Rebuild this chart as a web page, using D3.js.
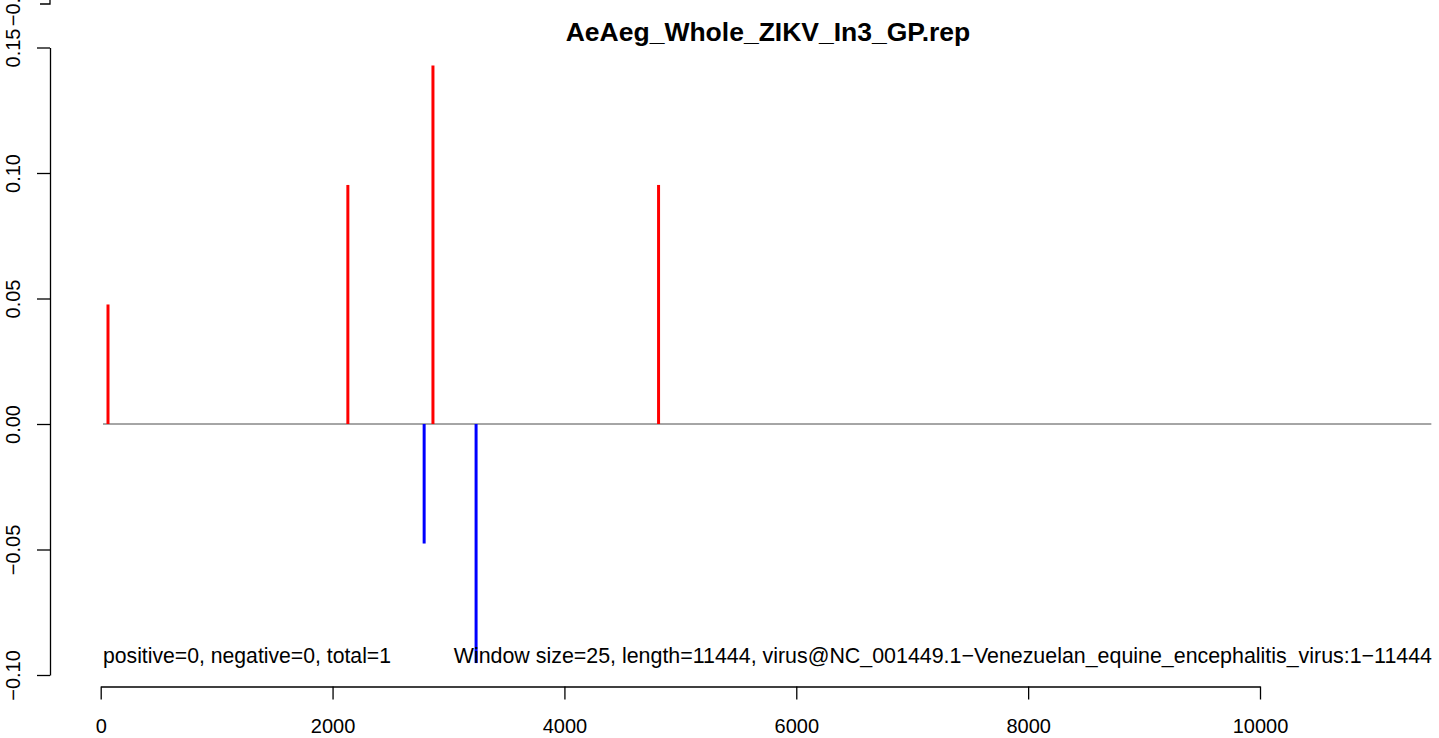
<!DOCTYPE html>
<html><head><meta charset="utf-8">
<script src="https://cdn.jsdelivr.net/npm/d3@7"></script>
<style>body{margin:0;background:#fff}svg{display:block;font-family:"Liberation Sans",Arial,Helvetica,sans-serif}</style>
</head><body>
<script>
const title = "AeAeg_Whole_ZIKV_In3_GP.rep";
const posPositions = [63, 2132, 2866, 4812];
const posValues = [1/21, 2/21, 3/21, 2/21];
const negPositions = [2790, 3238];
const negValues = [-1/21, -2/21];
const xTicks = [0, 2000, 4000, 6000, 8000, 10000];
const yTicks = [-0.10, -0.05, 0.00, 0.05, 0.10, 0.15];
const baselineRange = [20, 11478];
const leftNote = "positive=0, negative=0, total=1";
const rightNote = "Window size=25, length=11444, virus@NC_001449.1\u2212Venezuelan_equine_encephalitis_virus:1\u221211444";

const W = 1439, H = 738;
const svg = d3.select("body").append("svg").attr("width", W).attr("height", H);

const x = d3.scaleLinear().domain([0, 10000]).range([100.7, 1260]);
const y = d3.scaleLinear().domain([-0.10, 0.15]).range([675, 47.5]);

// zero baseline
svg.append("line")
  .attr("x1", x(baselineRange[0])).attr("x2", x(baselineRange[1]))
  .attr("y1", y(0)).attr("y2", y(0))
  .attr("stroke", "#4d4d4d").attr("stroke-width", 1);

// bars
svg.selectAll("line.pos").data(posPositions).join("line").attr("class", "pos")
  .attr("x1", d => x(d)).attr("x2", d => x(d))
  .attr("y1", y(0)).attr("y2", (d, i) => y(posValues[i]))
  .attr("stroke", "#ff0000").attr("stroke-width", 3);
svg.selectAll("line.neg").data(negPositions).join("line").attr("class", "neg")
  .attr("x1", d => x(d)).attr("x2", d => x(d))
  .attr("y1", y(0)).attr("y2", (d, i) => y(negValues[i]))
  .attr("stroke", "#0000ff").attr("stroke-width", 3);

// x axis
const xAxis = svg.append("g").attr("transform", "translate(0,686.5)")
  .call(d3.axisBottom(x).tickValues(xTicks).tickSize(13).tickSizeOuter(0).tickFormat(d3.format("d")));
xAxis.select(".domain").attr("stroke", "#000").attr("stroke-width", 1.3);
xAxis.selectAll(".tick line").attr("stroke", "#000").attr("stroke-width", 1.3);
xAxis.selectAll(".tick text").attr("font-size", 20).attr("fill", "#000")
  .attr("y", 46.5).attr("dy", 0).attr("font-family", "Liberation Sans, Arial, sans-serif");

// y axis
const yAxis = svg.append("g").attr("transform", "translate(50,0)")
  .call(d3.axisLeft(y).tickValues(yTicks).tickSize(13).tickSizeOuter(0)
    .tickFormat(d => d3.format(".2f")(d).replace("-", "\u2212")));
yAxis.select(".domain").attr("stroke", "#000").attr("stroke-width", 1.3);
yAxis.selectAll(".tick line").attr("stroke", "#000").attr("stroke-width", 1.3);
yAxis.selectAll(".tick text").attr("font-size", 20).attr("fill", "#000")
  .attr("x", null).attr("dy", 0).attr("text-anchor", "middle")
  .attr("transform", "translate(-30,0) rotate(-90)")
  .attr("font-family", "Liberation Sans, Arial, sans-serif");

// remnant of panel above
svg.append("path").attr("d", "M40,4H50V-5").attr("fill", "none").attr("stroke", "#000").attr("stroke-width", 1.3);
svg.append("text").attr("transform", "translate(20,1) rotate(-90)")
  .attr("text-anchor", "middle").attr("font-size", 20).text("\u22120.10");

// title
svg.append("text").attr("x", 768).attr("y", 41).attr("text-anchor", "middle")
  .attr("font-size", 26.5).attr("font-weight", "bold").text(title);

// notes
svg.append("text").attr("x", 103).attr("y", 663).attr("font-size", 21.2).text(leftNote);
svg.append("text").attr("x", 1432).attr("y", 663).attr("text-anchor", "end").attr("font-size", 21.4).text(rightNote);
</script>
</body></html>
